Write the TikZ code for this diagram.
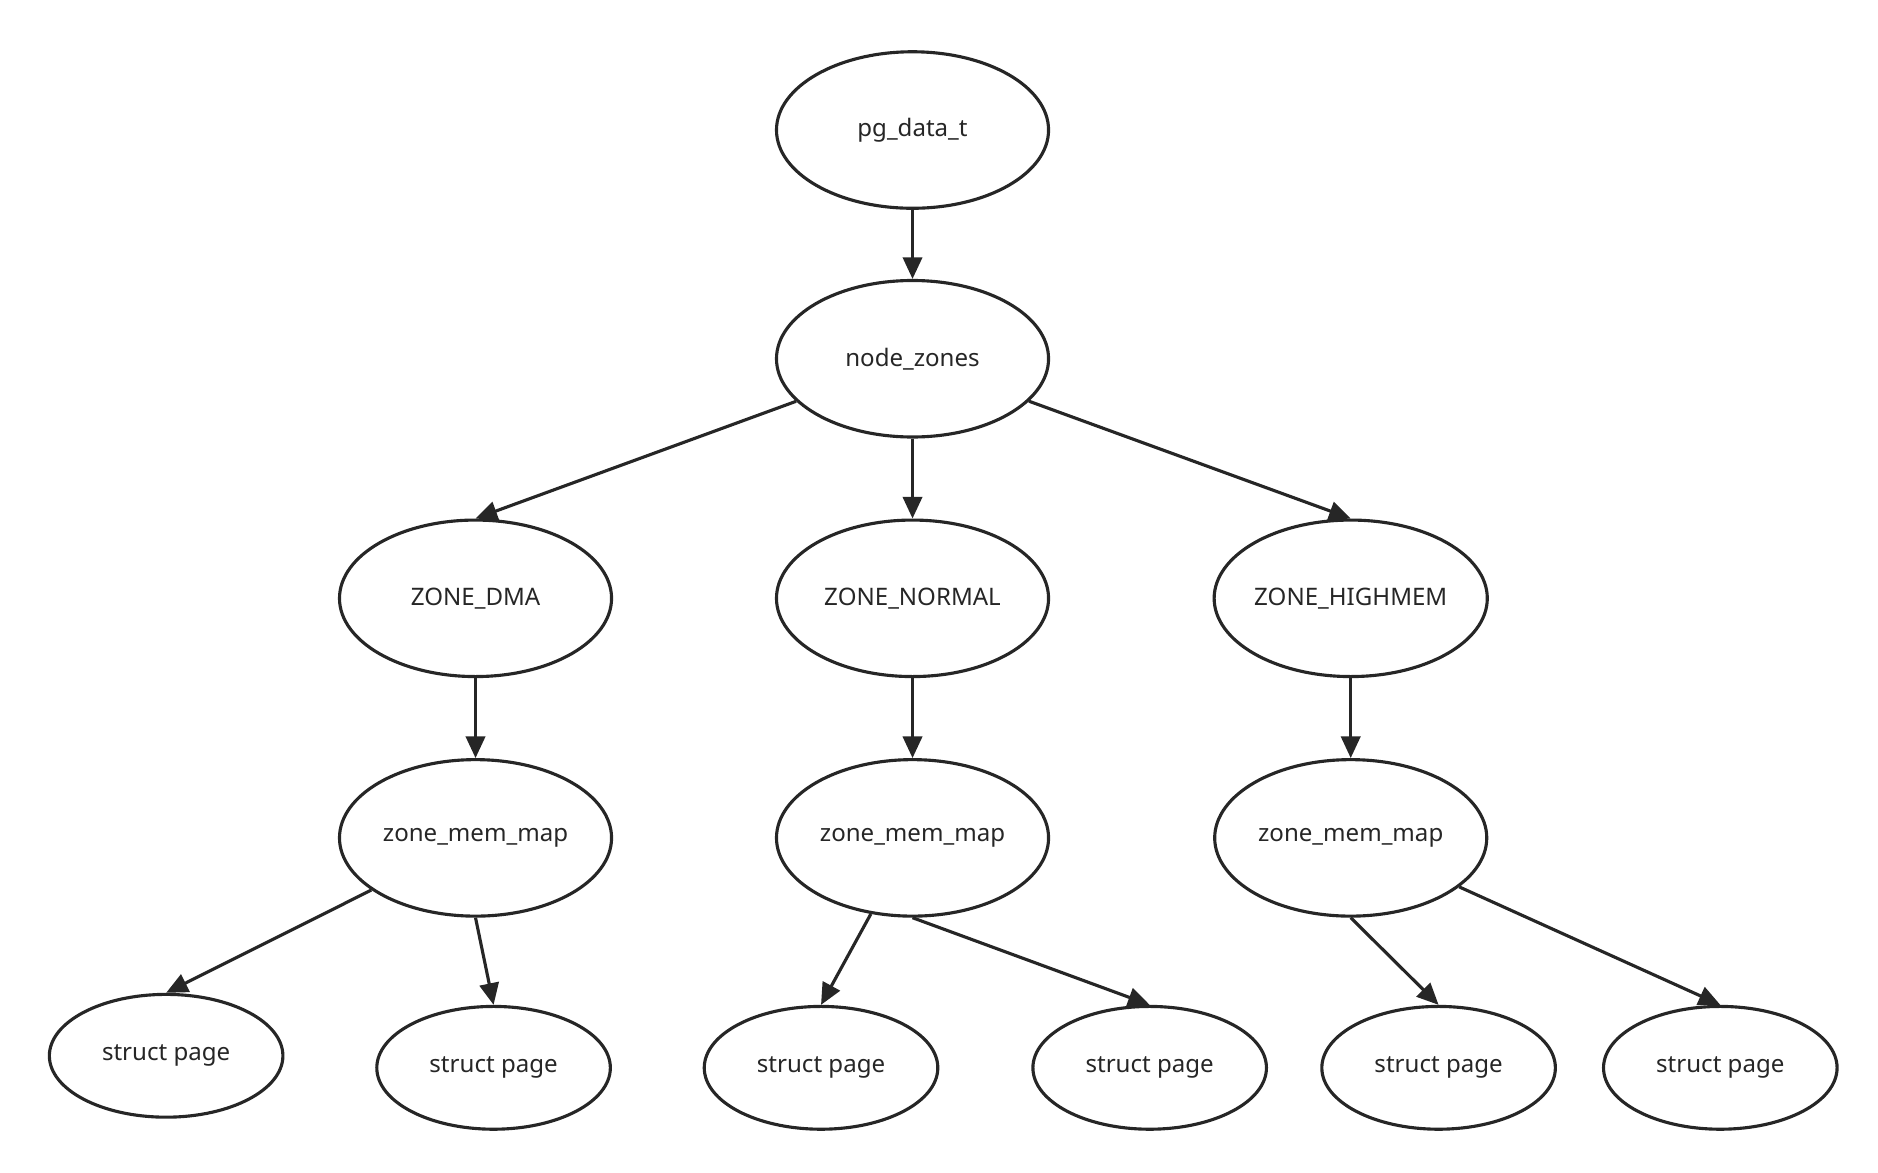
\documentclass[tikz,border=0pt]{standalone}
\usepackage{fontspec}
\setmainfont{Noto Sans}
\usetikzlibrary{arrows.meta,shapes.geometric}

\begin{document}
\begin{tikzpicture}[x=1pt,y=-1pt,line width=2.6pt,draw=black!85,
  every node/.style={ellipse,draw,inner sep=0pt,font=\fontsize{20}{24}\selectfont,text=black!85},
  big/.style={minimum width=226pt,minimum height=130pt},
  small/.style={minimum width=194pt,minimum height=102pt},
  link/.style={-{Triangle[length=18pt,width=16pt]}}]
\useasboundingbox (0,0) rectangle (1560,974);
\node[big] (pg) at (758,108) {pg\_data\_t};
\node[big] (nz) at (758,298) {node\_zones};
\node[big] (zd) at (395,497) {ZONE\_DMA};
\node[big] (zn) at (758,497) {ZONE\_NORMAL};
\node[big] (zh) at (1122,497) {ZONE\_HIGHMEM};
\node[big] (m1) at (395,696) {zone\_mem\_map};
\node[big] (m2) at (758,696) {zone\_mem\_map};
\node[big] (m3) at (1122,696) {zone\_mem\_map};
\node[small] (p1) at (138,877) {struct page};
\node[small] (p2) at (410,887) {struct page};
\node[small] (p3) at (682,887) {struct page};
\node[small] (p4) at (955,887) {struct page};
\node[small] (p5) at (1195,887) {struct page};
\node[small] (p6) at (1429,887) {struct page};
\draw[link] (pg) -- (nz);
\draw[link] (nz) -- (zd.north);
\draw[link] (nz) -- (zn);
\draw[link] (nz) -- (zh.north);
\draw[link] (zd) -- (m1);
\draw[link] (zn) -- (m2);
\draw[link] (zh) -- (m3);
\draw[link] (m1) -- (p1.north);
\draw[link] (m1.south) -- (p2.north);
\draw[link] (m2) -- (p3.north);
\draw[link] (m2.south) -- (p4.north);
\draw[link] (m3.south) -- (p5.north);
\draw[link] (m3) -- (p6.north);
\end{tikzpicture}
\end{document}
